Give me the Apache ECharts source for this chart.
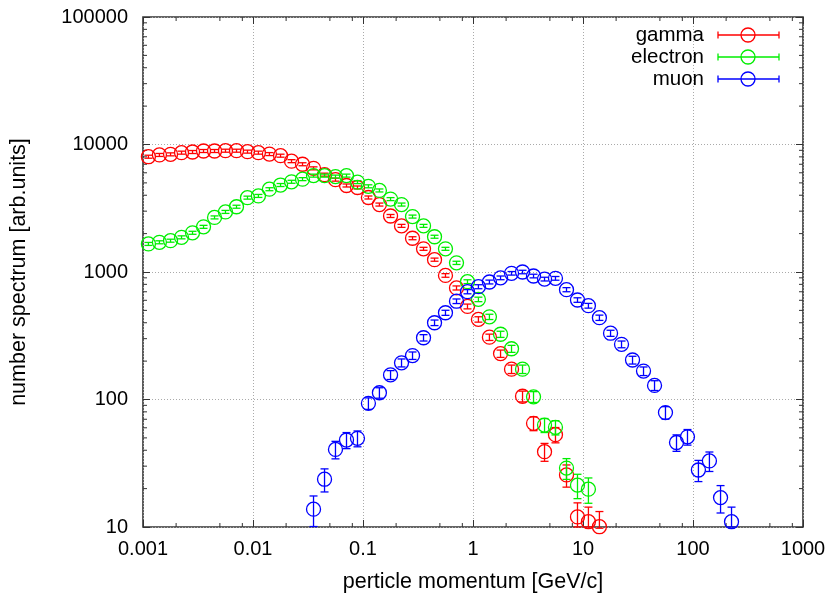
<!DOCTYPE html>
<html>
<head>
<meta charset="utf-8">
<title>number spectrum</title>
<script src="https://cdn.jsdelivr.net/npm/echarts@6/dist/echarts.min.js"></script>
<style>
    html, body {margin: 0; padding: 0; background: #fff;}
    #chart {width: 835px; height: 599px;}
</style>
</head>
<body>
<div id="chart"></div>
<script>
// bin centres, GeV/c
var momentum = [
    0.00112, 0.00141, 0.00178, 0.00224, 0.00282, 0.00355, 0.00447, 0.00562, 0.00708, 0.00891,
    0.0112, 0.0141, 0.0178, 0.0224, 0.0282, 0.0355, 0.0447, 0.0562, 0.0708, 0.0891,
    0.112, 0.141, 0.178, 0.224, 0.282, 0.355, 0.447, 0.562, 0.708, 0.891,
    1.12, 1.41, 1.78, 2.24, 2.82, 3.55, 4.47, 5.62, 7.08, 8.91,
    11.2, 14.1, 17.8, 22.4, 28.2, 35.5, 44.7, 56.2, 70.8, 89.1,
    112, 141, 178, 224
];
var gamma = [
    8020, 8280, 8370, 8630, 8730, 8890, 8890, 8940, 8940, 8790,
    8630, 8410, 8170, 7400, 7000, 6500, 5800, 5300, 4770, 4600,
    3840, 3380, 2750, 2300, 1840, 1520, 1250, 940, 750, 537,
    425, 308, 229, 173, 106, 65, 39, 53, 25.6, 12,
    11, 10.05
];
var electron = [
    1660, 1710, 1760, 1870, 2030, 2260, 2680, 2960, 3250, 3830,
    3950, 4460, 4810, 5100, 5350, 5700, 5700, 5600, 5700, 5070,
    4700, 4360, 3730, 3380, 2720, 2300, 1890, 1520, 1180, 840,
    610, 445, 325, 250, 173, 105, 63, 60.5, 29, 21.3,
    19.8
];
var muon = [
    null, null, null, null, null, null, null, null, null, null,
    null, null, null, null, null, 13.8, 23.7, 40.6, 48.1, 49.6,
    93.3, 113, 156, 194, 221, 305, 400, 479, 590, 701,
    767, 835, 900, 977, 1000, 930, 880, 892, 727, 603,
    544, 438, 331, 271, 204, 167, 129, 79, 46, 51,
    28, 33, 17, 11
];

var xTickLabels = ['0.001', '0.01', '0.1', '1', '10', '100', '1000'];
var yTickLabels = ['10', '100', '1000', '10000', '100000'];
var xMinor = [2, 5, 8];
var yMinor = [2, 3, 4, 5, 6, 7, 8, 9];

var names = ['gamma', 'electron', 'muon'];
var colors = ['#ff0000', '#00ee00', '#0000ff'];
var FONT = 'Liberation Sans, Arial, sans-serif';

var toData = function (vals) {
    var out = [];
    vals.forEach(function (v, i) {
        if (v != null) out.push([momentum[i], v]);
    });
    return out;
};

// minor ticks: [x, y, side]  side 0 = x axis, 1 = y axis
var minorData = [];
for (var e = -3; e < 3; e++) {
    xMinor.forEach(function (m) { minorData.push([m * Math.pow(10, e), 10, 0]); });
}
for (var e2 = 1; e2 < 5; e2++) {
    yMinor.forEach(function (m) { minorData.push([0.001, m * Math.pow(10, e2), 1]); });
}

var pointItem = function (color) {
    return function (params, api) {
        var x = api.value(0), y = api.value(1);
        var c = api.coord([x, y]);
        var err = Math.sqrt(y);
        var top = Math.min(api.coord([x, y + err])[1], c[1] - 1.5);
        var bot = Math.max(api.coord([x, Math.max(y - err, 10)])[1], c[1] + 1.5);
        var st = {stroke: color, lineWidth: 1.3, fill: null};
        return {
            type: 'group',
            children: [
                {type: 'line', shape: {x1: c[0], y1: top, x2: c[0], y2: bot}, style: st},
                {type: 'line', shape: {x1: c[0] - 4, y1: top, x2: c[0] + 4, y2: top}, style: st},
                {type: 'line', shape: {x1: c[0] - 4, y1: bot, x2: c[0] + 4, y2: bot}, style: st},
                {type: 'circle', shape: {cx: c[0], cy: c[1], r: 7}, style: st}
            ]
        };
    };
};

var minorItem = function (params, api) {
    var cs = params.coordSys;
    var side = api.value(2);
    var st = {stroke: '#333', lineWidth: 1};
    if (side === 0) {
        var px = api.coord([api.value(0), 10])[0];
        return {type: 'group', children: [
            {type: 'line', shape: {x1: px, y1: cs.y + cs.height, x2: px, y2: cs.y + cs.height - 4}, style: st},
            {type: 'line', shape: {x1: px, y1: cs.y, x2: px, y2: cs.y + 4}, style: st}
        ]};
    }
    var py = api.coord([0.001, api.value(1)])[1];
    return {type: 'group', children: [
        {type: 'line', shape: {x1: cs.x, y1: py, x2: cs.x + 4, y2: py}, style: st},
        {type: 'line', shape: {x1: cs.x + cs.width, y1: py, x2: cs.x + cs.width - 4, y2: py}, style: st}
    ]};
};

var tick = {show: true, inside: true, length: 7, lineStyle: {color: '#333', width: 1}};
var grid = {show: true, lineStyle: {color: '#aaa', width: 1, type: [1, 2]}};

var series = [
    {type: 'custom', name: 'minor', renderItem: minorItem, data: minorData, clip: false,
        encode: {x: 0, y: 1}, silent: true}
];
[gamma, electron, muon].forEach(function (vals, i) {
    series.push({
        type: 'custom',
        name: names[i],
        renderItem: pointItem(colors[i]),
        data: toData(vals),
        encode: {x: 0, y: 1},
        clip: false
    });
});

// legend, top right inside the frame
var legendEls = [];
names.forEach(function (n, i) {
    var ry = 35 + i * 22;
    var st = {stroke: colors[i], lineWidth: 1.3, fill: null};
    legendEls.push({type: 'text', style: {text: n, x: 704, y: ry, textAlign: 'right',
        textVerticalAlign: 'middle', font: '20.5px ' + FONT, fill: '#000'}});
    legendEls.push({type: 'line', shape: {x1: 718, y1: ry, x2: 779, y2: ry}, style: st});
    legendEls.push({type: 'line', shape: {x1: 718, y1: ry - 3.5, x2: 718, y2: ry + 3.5}, style: st});
    legendEls.push({type: 'line', shape: {x1: 779, y1: ry - 3.5, x2: 779, y2: ry + 3.5}, style: st});
    legendEls.push({type: 'circle', shape: {cx: 748, cy: ry, r: 7}, style: st});
});

var myChart = echarts.init(document.getElementById('chart'));
myChart.setOption({
    animation: false,
    backgroundColor: '#fff',
    grid: {left: 143, right: 32, top: 17, bottom: 72, show: true, borderColor: '#333', borderWidth: 1.6},
    xAxis: [
        {
            type: 'log', logBase: 10, min: 0.001, max: 1000, interval: 1,
            position: 'bottom',
            axisLine: {show: false},
            axisTick: tick,
            splitLine: grid,
            axisLabel: {
                margin: 12, color: '#000', fontSize: 20, fontFamily: FONT,
                formatter: function (v) { return xTickLabels[Math.round(Math.log10(v)) + 3]; }
            },
            name: 'perticle momentum [GeV/c]',
            nameLocation: 'middle',
            nameGap: 44,
            nameTextStyle: {color: '#000', fontSize: 21.5, fontFamily: FONT}
        },
        {
            type: 'log', logBase: 10, min: 0.001, max: 1000, interval: 1,
            position: 'top',
            axisLine: {show: false}, axisTick: tick,
            axisLabel: {show: false}, splitLine: {show: false}
        }
    ],
    yAxis: [
        {
            type: 'log', logBase: 10, min: 10, max: 100000, interval: 1,
            position: 'left',
            axisLine: {show: false},
            axisTick: tick,
            splitLine: grid,
            axisLabel: {
                margin: 15, color: '#000', fontSize: 20, fontFamily: FONT,
                formatter: function (v) { return yTickLabels[Math.round(Math.log10(v)) - 1]; }
            },
            name: 'number spectrum [arb.units]',
            nameLocation: 'middle',
            nameGap: 113,
            nameTextStyle: {color: '#000', fontSize: 21.5, fontFamily: FONT}
        },
        {
            type: 'log', logBase: 10, min: 10, max: 100000, interval: 1,
            position: 'right',
            axisLine: {show: false}, axisTick: tick,
            axisLabel: {show: false}, splitLine: {show: false}
        }
    ],
    graphic: {elements: legendEls},
    series: series
});
</script>
</body>
</html>
